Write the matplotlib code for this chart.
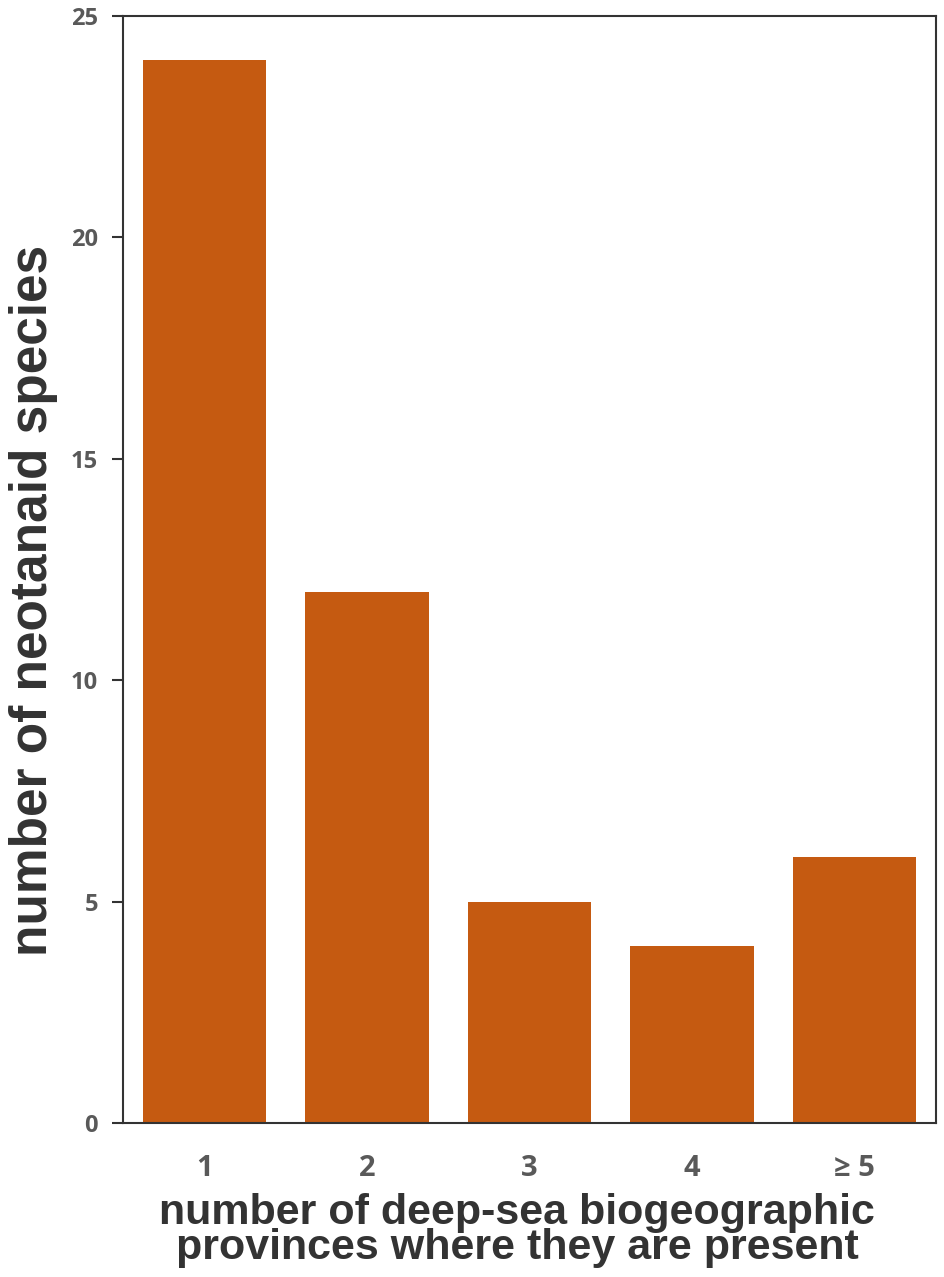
import matplotlib.pyplot as plt

categories = ['1', '2', '3', '4', '\u2265 5']
species = [24, 12, 5, 4, 6]
yticks = [0, 5, 10, 15, 20, 25]

fig = plt.figure(figsize=(9.45, 12.77), dpi=100)
ax = fig.add_axes([123 / 945, 1 - 1123 / 1277, 813 / 945, 1107 / 1277])

x = list(range(len(categories)))
ax.bar(x, species, width=0.76, color='#C55A11', zorder=2)

ax.set_xlim(-0.5, len(categories) - 0.5)
ax.set_ylim(0, 25)
ax.set_yticks(yticks)
ax.set_xticks(x)
ax.set_xticklabels(categories)

for s in ax.spines.values():
    s.set_color('#333333')
    s.set_linewidth(1.5)

ax.tick_params(axis='y', length=8, width=1.5, color='#333333', pad=10,
               labelsize=17, labelcolor='#595959')
ax.tick_params(axis='x', length=0, pad=22, labelsize=21, labelcolor='#595959')
for lbl in ax.get_yticklabels() + ax.get_xticklabels():
    lbl.set_fontweight('bold')
    lbl.set_family('Open Sans')

ax.set_ylabel('number of neotanaid species', fontsize=37, fontweight='bold',
              color='#333333', family='Liberation Sans')
ax.yaxis.set_label_coords(-0.08, 0.472)
ax.set_xlabel('number of deep-sea biogeographic\nprovinces where they are present',
              fontsize=31, fontweight='bold', color='#333333',
              family='Liberation Sans', linespacing=0.85)
ax.xaxis.set_label_coords(0.485, -0.063)
ax.xaxis.label.set_va('top')

fig.savefig('out.png', dpi=100)
